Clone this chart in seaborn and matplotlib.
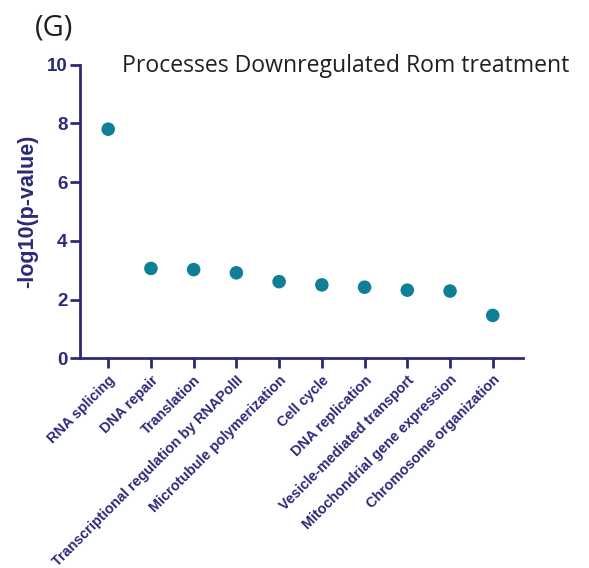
import matplotlib
matplotlib.use("Agg")
import matplotlib.pyplot as plt
import seaborn as sns
import pandas as pd

# Enriched processes and their significance
processes = [
    "RNA splicing",
    "DNA repair",
    "Translation",
    "Transcriptional regulation by RNAPolII",
    "Microtubule polymerization",
    "Cell cycle",
    "DNA replication",
    "Vesicle-mediated transport",
    "Mitochondrial gene expression",
    "Chromosome organization",
]
neg_log10_p = [7.80, 3.06, 3.02, 2.91, 2.61, 2.50, 2.42, 2.32, 2.29, 1.46]
y_ticks = [0, 2, 4, 6, 8, 10]

df = pd.DataFrame({"process": processes, "score": neg_log10_p})
df["pos"] = range(len(df))

NAVY = "#2B2A78"
TEAL = "#0F7F96"

sns.set_theme(style="ticks")
plt.rcParams["font.family"] = ["Liberation Sans", "DejaVu Sans"]

fig = plt.figure(figsize=(5.89, 5.68), dpi=100)
ax = fig.add_axes([0.1358, 0.3692, 0.7516, 0.5171])

sns.scatterplot(data=df, x="pos", y="score", ax=ax, color=TEAL,
                s=95, edgecolor="none", legend=False, zorder=3)

ax.set_xlim(-0.66, 9.70)
ax.set_ylim(0, 10)
ax.set_yticks(y_ticks)
ax.set_yticklabels([str(t) for t in y_ticks], fontsize=13.5, fontweight="bold", color=NAVY)
ax.set_xticks(df["pos"])
ax.set_xticklabels(df["process"], rotation=45, ha="right", rotation_mode="anchor",
                   fontsize=10.4, fontweight="bold", color=NAVY)

ax.set_xlabel("")
ax.set_ylabel("-log10(p-value)", fontsize=15.5, fontweight="bold", color=NAVY, labelpad=6)

for side in ("top", "right"):
    ax.spines[side].set_visible(False)
for side in ("left", "bottom"):
    ax.spines[side].set_color(NAVY)
    ax.spines[side].set_linewidth(2.0)
    ax.spines[side].set_capstyle("projecting")
ax.tick_params(axis="both", which="major", direction="out", length=7.5, width=2.0,
               color=NAVY)
ax.tick_params(axis="y", pad=1.5)
ax.tick_params(axis="x", pad=3)

fig.text(122 / 589, 1 - 72.5 / 568, "Processes Downregulated Rom treatment",
         fontsize=16.6, family="Open Sans", color="#231F20",
         ha="left", va="baseline")
fig.text(35 / 589, 1 - 36 / 568, "(G)", fontsize=21, family="Open Sans",
         color="#231F20", ha="left", va="baseline")

fig.savefig("out.png", dpi=100)
